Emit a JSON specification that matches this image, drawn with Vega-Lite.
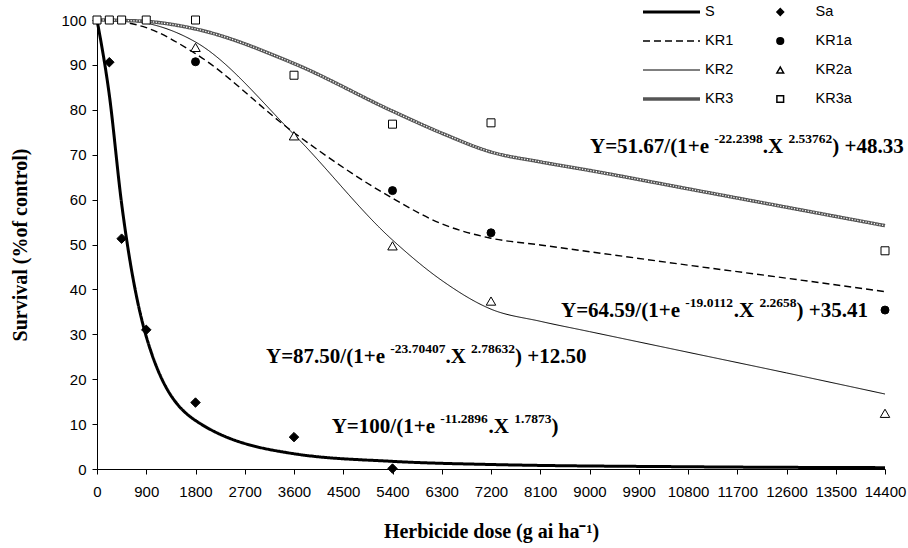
{
  "$schema": "https://vega.github.io/schema/vega-lite/v6.json",
  "width": 788,
  "height": 449,
  "autosize": {"type": "none"},
  "padding": {"left": 97, "top": 20, "right": 23, "bottom": 79},
  "background": "white",
  "config": {
    "view": {"stroke": null},
    "axis": {
      "grid": false,
      "domainColor": "black",
      "domainWidth": 1,
      "tickColor": "black",
      "tickSize": 5,
      "labelColor": "black",
      "labelFont": "Liberation Sans",
      "labelFontSize": 15,
      "titleFont": "Liberation Serif",
      "titleFontWeight": "bold",
      "titleFontSize": 20,
      "titleColor": "black"
    }
  },
  "datasets": {
    "curves": [
      {"curve": "S", "dose": 0, "survival": 100},
      {"curve": "S", "dose": 225, "survival": 83.3},
      {"curve": "S", "dose": 450, "survival": 59.1},
      {"curve": "S", "dose": 900, "survival": 29.5},
      {"curve": "S", "dose": 1800, "survival": 10.8},
      {"curve": "S", "dose": 3600, "survival": 3.4},
      {"curve": "S", "dose": 5400, "survival": 1.7},
      {"curve": "S", "dose": 7200, "survival": 1.0},
      {"curve": "S", "dose": 10800, "survival": 0.5},
      {"curve": "S", "dose": 14400, "survival": 0.3},
      {"curve": "KR1", "dose": 0, "survival": 100},
      {"curve": "KR1", "dose": 225, "survival": 99.9},
      {"curve": "KR1", "dose": 450, "survival": 99.6},
      {"curve": "KR1", "dose": 900, "survival": 98.3},
      {"curve": "KR1", "dose": 1800, "survival": 92.5},
      {"curve": "KR1", "dose": 3600, "survival": 74.9},
      {"curve": "KR1", "dose": 5400, "survival": 60.3},
      {"curve": "KR1", "dose": 6300, "survival": 54.6},
      {"curve": "KR1", "dose": 7200, "survival": 51.4},
      {"curve": "KR1", "dose": 8100, "survival": 49.9},
      {"curve": "KR1", "dose": 9000, "survival": 48.4},
      {"curve": "KR1", "dose": 10800, "survival": 45.4},
      {"curve": "KR1", "dose": 12600, "survival": 42.5},
      {"curve": "KR1", "dose": 14400, "survival": 39.5},
      {"curve": "KR2", "dose": 0, "survival": 100},
      {"curve": "KR2", "dose": 225, "survival": 100},
      {"curve": "KR2", "dose": 450, "survival": 99.9},
      {"curve": "KR2", "dose": 900, "survival": 99.3},
      {"curve": "KR2", "dose": 1800, "survival": 95.1},
      {"curve": "KR2", "dose": 3600, "survival": 74.5},
      {"curve": "KR2", "dose": 5400, "survival": 51.0},
      {"curve": "KR2", "dose": 6300, "survival": 42.0},
      {"curve": "KR2", "dose": 7200, "survival": 35.6},
      {"curve": "KR2", "dose": 8100, "survival": 32.9},
      {"curve": "KR2", "dose": 9000, "survival": 30.6},
      {"curve": "KR2", "dose": 10800, "survival": 26.0},
      {"curve": "KR2", "dose": 12600, "survival": 21.4},
      {"curve": "KR2", "dose": 14400, "survival": 16.7},
      {"curve": "KR3", "dose": 0, "survival": 100},
      {"curve": "KR3", "dose": 225, "survival": 100},
      {"curve": "KR3", "dose": 450, "survival": 99.9},
      {"curve": "KR3", "dose": 900, "survival": 99.7},
      {"curve": "KR3", "dose": 1800, "survival": 98.0},
      {"curve": "KR3", "dose": 3600, "survival": 90.3},
      {"curve": "KR3", "dose": 5400, "survival": 79.7},
      {"curve": "KR3", "dose": 6300, "survival": 74.8},
      {"curve": "KR3", "dose": 7200, "survival": 70.6},
      {"curve": "KR3", "dose": 8100, "survival": 68.4},
      {"curve": "KR3", "dose": 9000, "survival": 66.5},
      {"curve": "KR3", "dose": 10800, "survival": 62.4},
      {"curve": "KR3", "dose": 12600, "survival": 58.3},
      {"curve": "KR3", "dose": 14400, "survival": 54.2}
    ],
    "obs": [
      {"sample": "Sa", "dose": 225, "survival": 90.6},
      {"sample": "Sa", "dose": 450, "survival": 51.3},
      {"sample": "Sa", "dose": 900, "survival": 31.0},
      {"sample": "Sa", "dose": 1800, "survival": 14.8},
      {"sample": "Sa", "dose": 3600, "survival": 7.1},
      {"sample": "Sa", "dose": 5400, "survival": 0.1},
      {"sample": "KR1a", "dose": 1800, "survival": 90.7},
      {"sample": "KR1a", "dose": 5400, "survival": 62.0},
      {"sample": "KR1a", "dose": 7200, "survival": 52.6},
      {"sample": "KR1a", "dose": 14400, "survival": 35.4},
      {"sample": "KR2a", "dose": 1800, "survival": 93.9},
      {"sample": "KR2a", "dose": 3600, "survival": 74.2},
      {"sample": "KR2a", "dose": 5400, "survival": 49.7},
      {"sample": "KR2a", "dose": 7200, "survival": 37.4},
      {"sample": "KR2a", "dose": 14400, "survival": 12.4},
      {"sample": "KR3a", "dose": 0, "survival": 100},
      {"sample": "KR3a", "dose": 225, "survival": 100},
      {"sample": "KR3a", "dose": 450, "survival": 100},
      {"sample": "KR3a", "dose": 900, "survival": 100},
      {"sample": "KR3a", "dose": 1800, "survival": 100},
      {"sample": "KR3a", "dose": 3600, "survival": 87.7},
      {"sample": "KR3a", "dose": 5400, "survival": 76.8},
      {"sample": "KR3a", "dose": 7200, "survival": 77.1},
      {"sample": "KR3a", "dose": 14400, "survival": 48.6}
    ],
    "eqMain": [
      {"t": "Y=51.67/(1+e", "x": 9009, "y": 70.31},
      {"t": ".X", "x": 12165, "y": 70.31},
      {"t": ") +48.33", "x": 13437, "y": 70.31},
      {"t": "Y=64.59/(1+e", "x": 8479, "y": 33.92},
      {"t": ".X", "x": 11635, "y": 33.92},
      {"t": ") +35.41", "x": 12783, "y": 33.92},
      {"t": "Y=87.50/(1+e", "x": 3088, "y": 23.67},
      {"t": ".X", "x": 6367, "y": 23.67},
      {"t": ") +12.50", "x": 7639, "y": 23.67},
      {"t": "Y=100/(1+e", "x": 4289, "y": 7.95},
      {"t": ".X", "x": 7156, "y": 7.95},
      {"t": ")", "x": 8304, "y": 7.95}
    ],
    "eqSup": [
      {"t": "-22.2398", "x": 11280, "y": 72.54},
      {"t": "2.53762", "x": 12635, "y": 72.54},
      {"t": "-19.0112", "x": 10751, "y": 36.15},
      {"t": "2.2658", "x": 12105, "y": 36.15},
      {"t": "-23.70407", "x": 5360, "y": 25.9},
      {"t": "2.78632", "x": 6836, "y": 25.9},
      {"t": "-11.2896", "x": 6272, "y": 10.18},
      {"t": "1.7873", "x": 7626, "y": 10.18}
    ]
  },
  "encoding": {
    "x": {
      "field": "dose",
      "type": "quantitative",
      "scale": {"domain": [0, 14400], "nice": false},
      "axis": {
        "values": [0, 900, 1800, 2700, 3600, 4500, 5400, 6300, 7200, 8100, 9000, 9900, 10800, 11700, 12600, 13500, 14400],
        "labelAngle": 0,
        "labelFlush": false,
        "labelOverlap": false,
        "labelPadding": 10,
        "format": "d",
        "title": "Herbicide dose (g ai ha⁻¹)",
        "titlePadding": 22
      }
    },
    "y": {
      "field": "survival",
      "type": "quantitative",
      "scale": {"domain": [0, 100], "nice": false},
      "axis": {
        "values": [0, 10, 20, 30, 40, 50, 60, 70, 80, 90, 100],
        "labelPadding": 6,
        "title": "Survival (%of control)",
        "titlePadding": 30
      }
    }
  },
  "layer": [
    {
      "data": {"name": "curves"},
      "mark": {"type": "line", "interpolate": "monotone"},
      "encoding": {
        "color": {
          "field": "curve", "type": "nominal",
          "scale": {"domain": ["S", "KR1", "KR2", "KR3"], "range": ["#000000", "#000000", "#000000", "#555555"]},
          "legend": {"orient": "none", "legendX": 544, "legendY": -16, "title": null, "symbolType": "stroke", "symbolSize": 3249, "clipHeight": 16, "rowPadding": 13, "labelFontSize": 14.5, "labelFont": "Liberation Sans", "labelColor": "black", "labelOffset": 3, "padding": 0}
        },
        "strokeDash": {
          "field": "curve", "type": "nominal",
          "scale": {"domain": ["S", "KR1", "KR2", "KR3"], "range": [[1, 0], [7, 4], [1, 0], [1, 0]]},
          "legend": {"orient": "none", "legendX": 544, "legendY": -16, "title": null, "symbolType": "stroke", "symbolSize": 3249, "clipHeight": 16, "rowPadding": 13, "labelFontSize": 14.5, "labelFont": "Liberation Sans", "labelColor": "black", "labelOffset": 3, "padding": 0}
        },
        "strokeWidth": {
          "field": "curve", "type": "nominal",
          "scale": {"type": "ordinal", "domain": ["S", "KR1", "KR2", "KR3"], "range": [3, 1.4, 1, 3.5]},
          "legend": {"orient": "none", "legendX": 544, "legendY": -16, "title": null, "symbolType": "stroke", "symbolSize": 3249, "clipHeight": 16, "rowPadding": 13, "labelFontSize": 14.5, "labelFont": "Liberation Sans", "labelColor": "black", "labelOffset": 3, "padding": 0}
        }
      }
    },
    {
      "data": {"name": "curves"},
      "transform": [{"filter": "datum.curve === 'KR3'"}],
      "mark": {"type": "line", "interpolate": "monotone", "color": "white", "strokeWidth": 1.3, "strokeDash": [1.2, 1.6]},
      "encoding": {}
    },
    {
      "data": {"name": "obs"},
      "transform": [{"filter": "datum.sample === 'Sa' || datum.sample === 'KR2a'"}],
      "mark": {"type": "point", "filled": true, "stroke": "black", "strokeWidth": 1, "opacity": 1, "size": 90},
      "encoding": {
        "shape": {
          "field": "sample", "type": "nominal",
          "scale": {"domain": ["Sa", "KR1a", "KR2a", "KR3a"], "range": ["diamond", "circle", "triangle-up", "square"]},
          "legend": {"orient": "none", "legendX": 676, "legendY": -16, "title": null, "symbolSize": 45, "clipHeight": 16, "rowPadding": 13, "labelFontSize": 14.5, "labelFont": "Liberation Sans", "labelColor": "black", "labelOffset": 28, "padding": 0, "encode": {"symbols": {"update": {"stroke": {"value": "black"}, "strokeWidth": {"value": 1}}}}}
        },
        "fill": {
          "field": "sample", "type": "nominal",
          "scale": {"domain": ["Sa", "KR1a", "KR2a", "KR3a"], "range": ["black", "black", "white", "white"]},
          "legend": {"orient": "none", "legendX": 676, "legendY": -16, "title": null, "symbolSize": 45, "clipHeight": 16, "rowPadding": 13, "labelFontSize": 14.5, "labelFont": "Liberation Sans", "labelColor": "black", "labelOffset": 28, "padding": 0, "encode": {"symbols": {"update": {"stroke": {"value": "black"}, "strokeWidth": {"value": 1}}}}}
        }
      }
    },
    {
      "data": {"name": "obs"},
      "transform": [{"filter": "datum.sample === 'KR1a' || datum.sample === 'KR3a'"}],
      "mark": {"type": "point", "filled": true, "stroke": "black", "strokeWidth": 1, "opacity": 1, "size": 64},
      "encoding": {
        "shape": {"field": "sample", "type": "nominal"},
        "fill": {"field": "sample", "type": "nominal"}
      }
    },
    {
      "data": {"name": "eqMain"},
      "mark": {"type": "text", "align": "left", "baseline": "alphabetic", "font": "Liberation Serif", "fontWeight": "bold", "fontSize": 21, "color": "black"},
      "encoding": {
        "x": {"field": "x", "type": "quantitative"},
        "y": {"field": "y", "type": "quantitative"},
        "text": {"field": "t"}
      }
    },
    {
      "data": {"name": "eqSup"},
      "mark": {"type": "text", "align": "left", "baseline": "alphabetic", "font": "Liberation Serif", "fontWeight": "bold", "fontSize": 13.5, "color": "black"},
      "encoding": {
        "x": {"field": "x", "type": "quantitative"},
        "y": {"field": "y", "type": "quantitative"},
        "text": {"field": "t"}
      }
    }
  ]
}
